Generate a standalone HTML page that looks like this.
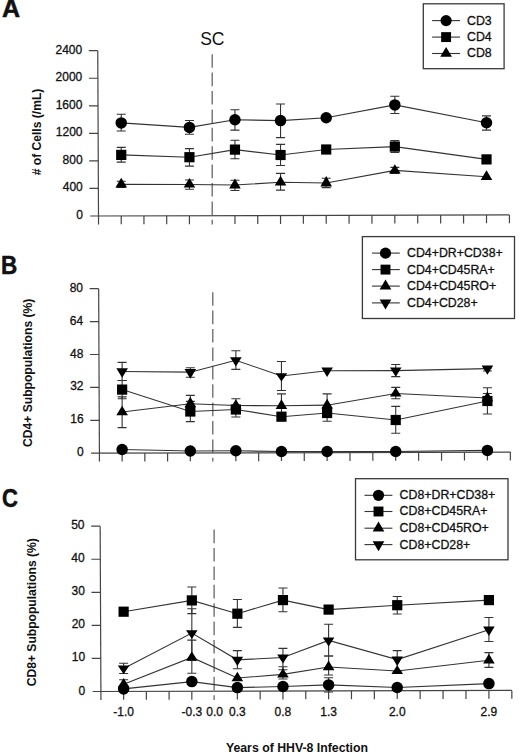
<!DOCTYPE html>
<html><head><meta charset="utf-8"><style>
html,body{margin:0;padding:0;background:#fff;}
svg{display:block;}
text{font-family:"Liberation Sans",sans-serif;fill:#111;}
.t{font-size:12px;stroke:#111;stroke-width:0.3px;}
.L{font-size:25px;font-weight:bold;stroke:#111;stroke-width:0.5px;}
.sc{font-size:17.5px;}
.yl{font-size:11.5px;font-weight:bold;}
.xt{font-size:12.3px;font-weight:bold;}
</style></head><body>
<svg width="520" height="754" viewBox="0 0 520 754">
<rect width="520" height="754" fill="#fff"/>
<path d="M97.76 50.7L98.54 224.4" stroke="#444" stroke-width="1.2" fill="none"/>
<path d="M88.76 50.7H97.76M88.88 78.25H97.88M89 105.8H98M89.13 133.35H98.13M89.25 160.9H98.25M89.38 188.45H98.38" stroke="#444" stroke-width="1.2" fill="none"/>
<path d="M90.2 216.02L509.44 214.9" stroke="#444" stroke-width="1.2" fill="none"/>
<path d="M121.23 215.94v8.4M143.95 215.88v8.4M166.69 215.82v8.4M189.43 215.76v8.4M234.96 215.63v8.4M257.75 215.57v8.4M280.55 215.51v8.4M303.37 215.45v8.4M326.21 215.39v8.4M349.07 215.33v8.4M371.94 215.27v8.4M394.83 215.21v8.4M417.73 215.15v8.4M440.65 215.08v8.4M463.57 215.02v8.4M486.51 214.96v8.4M509.44 214.9v8.4" stroke="#444" stroke-width="1.2" fill="none"/>
<path d="M212.2 54.2V224.4" stroke="#666" stroke-width="1.3" stroke-dasharray="13.6 4.8" fill="none"/>
<text x="82.16" y="53.7" text-anchor="end" class="t">2400</text>
<text x="82.28" y="81.25" text-anchor="end" class="t">2000</text>
<text x="82.4" y="108.8" text-anchor="end" class="t">1600</text>
<text x="82.53" y="136.35" text-anchor="end" class="t">1200</text>
<text x="82.65" y="163.9" text-anchor="end" class="t">800</text>
<text x="82.78" y="191.45" text-anchor="end" class="t">400</text>
<text x="82.9" y="219" text-anchor="end" class="t">0</text>
<text transform="translate(1.9 17) scale(1.0 1)" class="L">A</text>
<text x="200.2" y="45.4" class="sc">SC</text>
<polyline points="121.23,122.9 189.43,127.4 234.96,119.7 280.55,120.6 326.21,117.7 394.83,104.9 486.51,122.7" stroke="#333" stroke-width="1.1" fill="none"/>
<path d="M121.23 114.3V131M116.73 114.3h9M116.73 131h9" stroke="#333" stroke-width="1.1" fill="none"/>
<path d="M189.43 120.5V134.3M184.93 120.5h9M184.93 134.3h9" stroke="#333" stroke-width="1.1" fill="none"/>
<path d="M234.96 109.8V130.1M230.46 109.8h9M230.46 130.1h9" stroke="#333" stroke-width="1.1" fill="none"/>
<path d="M280.55 104V137.6M276.05 104h9M276.05 137.6h9" stroke="#333" stroke-width="1.1" fill="none"/>
<path d="M394.83 96.3V113.5M390.33 96.3h9M390.33 113.5h9" stroke="#333" stroke-width="1.1" fill="none"/>
<path d="M486.51 115.9V130.1M482.01 115.9h9M482.01 130.1h9" stroke="#333" stroke-width="1.1" fill="none"/>
<polyline points="121.23,154.9 189.43,157.2 234.96,149.6 280.55,155 326.21,149.5 394.83,146.6 486.51,159.4" stroke="#333" stroke-width="1.1" fill="none"/>
<path d="M121.23 147.4V162.1M116.73 147.4h9M116.73 162.1h9" stroke="#333" stroke-width="1.1" fill="none"/>
<path d="M189.43 148.6V166.1M184.93 148.6h9M184.93 166.1h9" stroke="#333" stroke-width="1.1" fill="none"/>
<path d="M234.96 140.3V158.8M230.46 140.3h9M230.46 158.8h9" stroke="#333" stroke-width="1.1" fill="none"/>
<path d="M280.55 144.4V165.5M276.05 144.4h9M276.05 165.5h9" stroke="#333" stroke-width="1.1" fill="none"/>
<path d="M394.83 140.6V152.5M390.33 140.6h9M390.33 152.5h9" stroke="#333" stroke-width="1.1" fill="none"/>
<polyline points="121.23,184.33 189.43,184.43 234.96,185.07 280.55,182.27 326.21,182.93 394.83,170.4 486.51,176.73" stroke="#333" stroke-width="1.1" fill="none"/>
<path d="M121.23 181.2V187.4M116.73 181.2h9M116.73 187.4h9" stroke="#333" stroke-width="1.1" fill="none"/>
<path d="M189.43 180V189.2M184.93 180h9M184.93 189.2h9" stroke="#333" stroke-width="1.1" fill="none"/>
<path d="M234.96 180.25V190.5M230.46 180.25h9M230.46 190.5h9" stroke="#333" stroke-width="1.1" fill="none"/>
<path d="M280.55 173.4V190.1M276.05 173.4h9M276.05 190.1h9" stroke="#333" stroke-width="1.1" fill="none"/>
<path d="M326.21 178.2V187.6M321.71 178.2h9M321.71 187.6h9" stroke="#333" stroke-width="1.1" fill="none"/>
<path d="M394.83 167.4V173.4M390.33 167.4h9M390.33 173.4h9" stroke="#333" stroke-width="1.1" fill="none"/>
<rect x="423.3" y="3.8" width="80.8" height="64.9" fill="none" stroke="#3a3a3a" stroke-width="1.3"/>
<path d="M432.1 20.6H460" stroke="#333" stroke-width="1.1"/>
<circle cx="446.1" cy="20.6" r="5.6" fill="#000"/>
<text x="467" y="24.5" class="t" style="font-size:12.35px">CD3</text>
<path d="M432.1 37.1H460" stroke="#333" stroke-width="1.1"/>
<rect x="441.15" y="32.15" width="9.9" height="9.9" fill="#000"/>
<text x="467" y="41" class="t" style="font-size:12.35px">CD4</text>
<path d="M432.1 53.5H460" stroke="#333" stroke-width="1.1"/>
<path d="M446.1 46.9L451.95 56.8L440.25 56.8Z" fill="#000"/>
<text x="467" y="57.4" class="t" style="font-size:12.35px">CD8</text>
<text transform="translate(41.2 132.0) rotate(-90)" text-anchor="middle" class="yl" style="font-size:12.1px"># of Cells (/mL)</text>
<circle cx="121.23" cy="122.9" r="5.75" fill="#000"/>
<circle cx="189.43" cy="127.4" r="5.75" fill="#000"/>
<circle cx="234.96" cy="119.7" r="5.75" fill="#000"/>
<circle cx="280.55" cy="120.6" r="5.75" fill="#000"/>
<circle cx="326.21" cy="117.7" r="5.75" fill="#000"/>
<circle cx="394.83" cy="104.9" r="5.75" fill="#000"/>
<circle cx="486.51" cy="122.7" r="5.75" fill="#000"/>
<rect x="116.13" y="149.8" width="10.2" height="10.2" fill="#000"/>
<rect x="184.33" y="152.1" width="10.2" height="10.2" fill="#000"/>
<rect x="229.86" y="144.5" width="10.2" height="10.2" fill="#000"/>
<rect x="275.45" y="149.9" width="10.2" height="10.2" fill="#000"/>
<rect x="321.11" y="144.4" width="10.2" height="10.2" fill="#000"/>
<rect x="389.73" y="141.5" width="10.2" height="10.2" fill="#000"/>
<rect x="481.41" y="154.3" width="10.2" height="10.2" fill="#000"/>
<path d="M121.23 177.8L127.03 187.6L115.43 187.6Z" fill="#000"/>
<path d="M189.43 178.1L195.23 187.6L183.63 187.6Z" fill="#000"/>
<path d="M234.96 178.4L240.76 188.4L229.16 188.4Z" fill="#000"/>
<path d="M280.55 175.8L286.35 185.5L274.75 185.5Z" fill="#000"/>
<path d="M326.21 176L332.01 186.4L320.41 186.4Z" fill="#000"/>
<path d="M394.83 164.2L400.63 173.5L389.03 173.5Z" fill="#000"/>
<path d="M486.51 170.2L492.31 180L480.71 180Z" fill="#000"/>
<path d="M98.66 288.7L99.44 461.6" stroke="#444" stroke-width="1.2" fill="none"/>
<path d="M89.66 288.7H98.66M89.81 321.6H98.81M89.96 354.5H98.96M90.1 387.4H99.1M90.25 420.3H99.25" stroke="#444" stroke-width="1.2" fill="none"/>
<path d="M91.1 453.22L510.34 452.1" stroke="#444" stroke-width="1.2" fill="none"/>
<path d="M122.13 453.14v8.4M144.85 453.08v8.4M167.59 453.02v8.4M190.33 452.96v8.4M235.86 452.83v8.4M258.65 452.77v8.4M281.45 452.71v8.4M304.27 452.65v8.4M327.11 452.59v8.4M349.97 452.53v8.4M372.84 452.47v8.4M395.73 452.41v8.4M418.63 452.35v8.4M441.55 452.28v8.4M464.47 452.22v8.4M487.41 452.16v8.4M510.34 452.1v8.4" stroke="#444" stroke-width="1.2" fill="none"/>
<path d="M212.8 292.2V461.6" stroke="#666" stroke-width="1.3" stroke-dasharray="13.6 4.8" fill="none"/>
<text x="83.06" y="291.7" text-anchor="end" class="t">80</text>
<text x="83.21" y="324.6" text-anchor="end" class="t">64</text>
<text x="83.36" y="357.5" text-anchor="end" class="t">48</text>
<text x="83.5" y="390.4" text-anchor="end" class="t">32</text>
<text x="83.65" y="423.3" text-anchor="end" class="t">16</text>
<text x="83.8" y="456.2" text-anchor="end" class="t">0</text>
<text transform="translate(1 274) scale(0.9 1)" class="L">B</text>
<polyline points="122.13,449.5 190.33,451 235.86,450.8 281.45,451.5 327.11,451.5 395.73,451.5 487.41,450.4" stroke="#333" stroke-width="1.1" fill="none"/>
<polyline points="122.13,389.6 190.33,411.5 235.86,409.5 281.45,416.7 327.11,413 395.73,420 487.41,401" stroke="#333" stroke-width="1.1" fill="none"/>
<path d="M122.13 380.5V398.7M117.63 380.5h9M117.63 398.7h9" stroke="#333" stroke-width="1.1" fill="none"/>
<path d="M190.33 401.4V421.6M185.83 401.4h9M185.83 421.6h9" stroke="#333" stroke-width="1.1" fill="none"/>
<path d="M235.86 398.7V417M231.36 398.7h9M231.36 417h9" stroke="#333" stroke-width="1.1" fill="none"/>
<path d="M327.11 393.9V421.3M322.61 393.9h9M322.61 421.3h9" stroke="#333" stroke-width="1.1" fill="none"/>
<path d="M395.73 406.4V433.2M391.23 406.4h9M391.23 433.2h9" stroke="#333" stroke-width="1.1" fill="none"/>
<path d="M487.41 387.7V414M482.91 387.7h9M482.91 414h9" stroke="#333" stroke-width="1.1" fill="none"/>
<polyline points="122.13,412.03 190.33,403.8 235.86,405.47 281.45,405.8 327.11,405.17 395.73,393.53 487.41,398" stroke="#333" stroke-width="1.1" fill="none"/>
<path d="M122.13 396.9V427.6M117.63 396.9h9M117.63 427.6h9" stroke="#333" stroke-width="1.1" fill="none"/>
<path d="M190.33 395.4V410M185.83 395.4h9M185.83 410h9" stroke="#333" stroke-width="1.1" fill="none"/>
<path d="M281.45 393.9V414.5M276.95 393.9h9M276.95 414.5h9" stroke="#333" stroke-width="1.1" fill="none"/>
<path d="M395.73 387.4V398.7M391.23 387.4h9M391.23 398.7h9" stroke="#333" stroke-width="1.1" fill="none"/>
<path d="M487.41 393.5V400M482.91 393.5h9M482.91 400h9" stroke="#333" stroke-width="1.1" fill="none"/>
<polyline points="122.13,371.47 190.33,372.17 235.86,360.27 281.45,376 327.11,370.77 395.73,370.67 487.41,368.67" stroke="#333" stroke-width="1.1" fill="none"/>
<path d="M122.13 362.4V380.5M117.63 362.4h9M117.63 380.5h9" stroke="#333" stroke-width="1.1" fill="none"/>
<path d="M190.33 367.8V377.3M185.83 367.8h9M185.83 377.3h9" stroke="#333" stroke-width="1.1" fill="none"/>
<path d="M235.86 350.8V369.4M231.36 350.8h9M231.36 369.4h9" stroke="#333" stroke-width="1.1" fill="none"/>
<path d="M281.45 361.5V390.5M276.95 361.5h9M276.95 390.5h9" stroke="#333" stroke-width="1.1" fill="none"/>
<path d="M395.73 364.5V376.6M391.23 364.5h9M391.23 376.6h9" stroke="#333" stroke-width="1.1" fill="none"/>
<path d="M487.41 368V371M482.91 368h9M482.91 371h9" stroke="#333" stroke-width="1.1" fill="none"/>
<rect x="362.4" y="236.6" width="152.1" height="81.9" fill="none" stroke="#3a3a3a" stroke-width="1.3"/>
<path d="M372 253.1H399.8" stroke="#333" stroke-width="1.1"/>
<circle cx="385.5" cy="253.1" r="5.6" fill="#000"/>
<text x="407" y="257" class="t" style="font-size:12.35px">CD4+DR+CD38+</text>
<path d="M372 269.6H399.8" stroke="#333" stroke-width="1.1"/>
<rect x="380.55" y="264.65" width="9.9" height="9.9" fill="#000"/>
<text x="407" y="273.5" class="t" style="font-size:12.35px">CD4+CD45RA+</text>
<path d="M372 286.1H399.8" stroke="#333" stroke-width="1.1"/>
<path d="M385.5 279.5L391.35 289.4L379.65 289.4Z" fill="#000"/>
<text x="407" y="290" class="t" style="font-size:12.35px">CD4+CD45RO+</text>
<path d="M372 302.9H399.8" stroke="#333" stroke-width="1.1"/>
<path d="M379.65 299.6L391.35 299.6L385.5 309.5Z" fill="#000"/>
<text x="407" y="306.8" class="t" style="font-size:12.35px">CD4+CD28+</text>
<text transform="translate(32.4 372.8) rotate(-90)" text-anchor="middle" class="yl" style="font-size:12.1px">CD4+ Subpopulations (%)</text>
<circle cx="122.13" cy="449.5" r="5.75" fill="#000"/>
<circle cx="190.33" cy="451" r="5.75" fill="#000"/>
<circle cx="235.86" cy="450.8" r="5.75" fill="#000"/>
<circle cx="281.45" cy="451.5" r="5.75" fill="#000"/>
<circle cx="327.11" cy="451.5" r="5.75" fill="#000"/>
<circle cx="395.73" cy="451.5" r="5.75" fill="#000"/>
<circle cx="487.41" cy="450.4" r="5.75" fill="#000"/>
<rect x="117.03" y="384.5" width="10.2" height="10.2" fill="#000"/>
<rect x="185.23" y="406.4" width="10.2" height="10.2" fill="#000"/>
<rect x="230.76" y="404.4" width="10.2" height="10.2" fill="#000"/>
<rect x="276.35" y="411.6" width="10.2" height="10.2" fill="#000"/>
<rect x="322.01" y="407.9" width="10.2" height="10.2" fill="#000"/>
<rect x="390.63" y="414.9" width="10.2" height="10.2" fill="#000"/>
<rect x="482.31" y="395.9" width="10.2" height="10.2" fill="#000"/>
<path d="M122.13 405.7L127.93 415.2L116.33 415.2Z" fill="#000"/>
<path d="M190.33 396.8L196.13 407.3L184.53 407.3Z" fill="#000"/>
<path d="M235.86 399.2L241.66 408.6L230.06 408.6Z" fill="#000"/>
<path d="M281.45 399.2L287.25 409.1L275.65 409.1Z" fill="#000"/>
<path d="M327.11 398.7L332.91 408.4L321.31 408.4Z" fill="#000"/>
<path d="M395.73 387.4L401.53 396.6L389.93 396.6Z" fill="#000"/>
<path d="M487.41 391.6L493.21 401.2L481.61 401.2Z" fill="#000"/>
<path d="M116.33 368.3L127.93 368.3L122.13 377.8Z" fill="#000"/>
<path d="M184.53 368.9L196.13 368.9L190.33 378.7Z" fill="#000"/>
<path d="M230.06 357.2L241.66 357.2L235.86 366.4Z" fill="#000"/>
<path d="M275.65 373.2L287.25 373.2L281.45 381.6Z" fill="#000"/>
<path d="M321.31 367.6L332.91 367.6L327.11 377.1Z" fill="#000"/>
<path d="M389.93 367.6L401.53 367.6L395.73 376.8Z" fill="#000"/>
<path d="M481.61 365.6L493.21 365.6L487.41 374.8Z" fill="#000"/>
<path d="M100.16 526.2L100.94 699.9" stroke="#444" stroke-width="1.2" fill="none"/>
<path d="M91.16 526.2H100.16M91.3 559.26H100.3M91.45 592.32H100.45M91.6 625.38H100.6M91.75 658.44H100.75" stroke="#444" stroke-width="1.2" fill="none"/>
<path d="M92.6 691.52L511.84 690.4" stroke="#444" stroke-width="1.2" fill="none"/>
<path d="M123.63 691.44v8.4M146.35 691.38v8.4M169.09 691.32v8.4M191.83 691.26v8.4M237.36 691.13v8.4M260.15 691.07v8.4M282.95 691.01v8.4M305.77 690.95v8.4M328.61 690.89v8.4M351.47 690.83v8.4M374.34 690.77v8.4M397.23 690.71v8.4M420.13 690.65v8.4M443.05 690.58v8.4M465.97 690.52v8.4M488.91 690.46v8.4M511.84 690.4v8.4" stroke="#444" stroke-width="1.2" fill="none"/>
<path d="M214.1 529.6V699.9" stroke="#666" stroke-width="1.3" stroke-dasharray="13.6 4.8" fill="none"/>
<text x="84.56" y="529.2" text-anchor="end" class="t">50</text>
<text x="84.7" y="562.26" text-anchor="end" class="t">40</text>
<text x="84.85" y="595.32" text-anchor="end" class="t">30</text>
<text x="85" y="628.38" text-anchor="end" class="t">20</text>
<text x="85.15" y="661.44" text-anchor="end" class="t">10</text>
<text x="85.3" y="694.5" text-anchor="end" class="t">0</text>
<text transform="translate(1.9 507) scale(0.88 1)" class="L">C</text>
<polyline points="123.63,688.9 191.83,681.6 237.36,687.6 282.95,686.5 328.61,684.9 397.23,687.5 488.91,683.6" stroke="#333" stroke-width="1.1" fill="none"/>
<path d="M328.61 677.8V692M324.11 677.8h9M324.11 692h9" stroke="#333" stroke-width="1.1" fill="none"/>
<polyline points="123.63,611.7 191.83,600.4 237.36,613.7 282.95,600.1 328.61,609.6 397.23,605.2 488.91,600.1" stroke="#333" stroke-width="1.1" fill="none"/>
<path d="M191.83 587V613.6M187.33 587h9M187.33 613.6h9" stroke="#333" stroke-width="1.1" fill="none"/>
<path d="M237.36 599.5V627.4M232.86 599.5h9M232.86 627.4h9" stroke="#333" stroke-width="1.1" fill="none"/>
<path d="M282.95 588V611.7M278.45 588h9M278.45 611.7h9" stroke="#333" stroke-width="1.1" fill="none"/>
<path d="M397.23 596.5V614M392.73 596.5h9M392.73 614h9" stroke="#333" stroke-width="1.1" fill="none"/>
<polyline points="123.63,684.3 191.83,657.4 237.36,678.03 282.95,674.33 328.61,667 397.23,671 488.91,660.3" stroke="#333" stroke-width="1.1" fill="none"/>
<path d="M123.63 679.7V686M119.13 679.7h9M119.13 686h9" stroke="#333" stroke-width="1.1" fill="none"/>
<path d="M191.83 640.1V673.2M187.33 640.1h9M187.33 673.2h9" stroke="#333" stroke-width="1.1" fill="none"/>
<path d="M282.95 666.7V679M278.45 666.7h9M278.45 679h9" stroke="#333" stroke-width="1.1" fill="none"/>
<path d="M328.61 656V675M324.11 656h9M324.11 675h9" stroke="#333" stroke-width="1.1" fill="none"/>
<path d="M488.91 652.6V667.4M484.41 652.6h9M484.41 667.4h9" stroke="#333" stroke-width="1.1" fill="none"/>
<polyline points="123.63,668.47 191.83,633.13 237.36,659.83 282.95,657.53 328.61,640.4 397.23,659.63 488.91,629.7" stroke="#333" stroke-width="1.1" fill="none"/>
<path d="M123.63 663.3V673.5M119.13 663.3h9M119.13 673.5h9" stroke="#333" stroke-width="1.1" fill="none"/>
<path d="M191.83 608.8V660.4M187.33 608.8h9M187.33 660.4h9" stroke="#333" stroke-width="1.1" fill="none"/>
<path d="M237.36 650.6V668.7M232.86 650.6h9M232.86 668.7h9" stroke="#333" stroke-width="1.1" fill="none"/>
<path d="M282.95 648.4V669.7M278.45 648.4h9M278.45 669.7h9" stroke="#333" stroke-width="1.1" fill="none"/>
<path d="M328.61 624.2V656M324.11 624.2h9M324.11 656h9" stroke="#333" stroke-width="1.1" fill="none"/>
<path d="M397.23 650.6V671.8M392.73 650.6h9M392.73 671.8h9" stroke="#333" stroke-width="1.1" fill="none"/>
<path d="M488.91 617.5V641.5M484.41 617.5h9M484.41 641.5h9" stroke="#333" stroke-width="1.1" fill="none"/>
<rect x="355.5" y="478.7" width="152.5" height="81.1" fill="none" stroke="#3a3a3a" stroke-width="1.3"/>
<path d="M364.5 495.3H392.4" stroke="#333" stroke-width="1.1"/>
<circle cx="378.5" cy="495.3" r="5.6" fill="#000"/>
<text x="399.6" y="499.2" class="t" style="font-size:12.35px">CD8+DR+CD38+</text>
<path d="M364.5 511.5H392.4" stroke="#333" stroke-width="1.1"/>
<rect x="373.55" y="506.55" width="9.9" height="9.9" fill="#000"/>
<text x="399.6" y="515.4" class="t" style="font-size:12.35px">CD8+CD45RA+</text>
<path d="M364.5 528.2H392.4" stroke="#333" stroke-width="1.1"/>
<path d="M378.5 521.6L384.35 531.5L372.65 531.5Z" fill="#000"/>
<text x="399.6" y="532.1" class="t" style="font-size:12.35px">CD8+CD45RO+</text>
<path d="M364.5 544.6H392.4" stroke="#333" stroke-width="1.1"/>
<path d="M372.65 541.3L384.35 541.3L378.5 551.2Z" fill="#000"/>
<text x="399.6" y="548.5" class="t" style="font-size:12.35px">CD8+CD28+</text>
<text transform="translate(36.0 612.2) rotate(-90)" text-anchor="middle" class="yl" style="font-size:12.1px">CD8+ Subpopulations (%)</text>
<circle cx="123.63" cy="688.9" r="5.75" fill="#000"/>
<circle cx="191.83" cy="681.6" r="5.75" fill="#000"/>
<circle cx="237.36" cy="687.6" r="5.75" fill="#000"/>
<circle cx="282.95" cy="686.5" r="5.75" fill="#000"/>
<circle cx="328.61" cy="684.9" r="5.75" fill="#000"/>
<circle cx="397.23" cy="687.5" r="5.75" fill="#000"/>
<circle cx="488.91" cy="683.6" r="5.75" fill="#000"/>
<rect x="118.53" y="606.6" width="10.2" height="10.2" fill="#000"/>
<rect x="186.73" y="595.3" width="10.2" height="10.2" fill="#000"/>
<rect x="232.26" y="608.6" width="10.2" height="10.2" fill="#000"/>
<rect x="277.85" y="595" width="10.2" height="10.2" fill="#000"/>
<rect x="323.51" y="604.5" width="10.2" height="10.2" fill="#000"/>
<rect x="392.13" y="600.1" width="10.2" height="10.2" fill="#000"/>
<rect x="483.81" y="595" width="10.2" height="10.2" fill="#000"/>
<path d="M123.63 678.1L129.43 687.4L117.83 687.4Z" fill="#000"/>
<path d="M191.83 651.4L197.63 660.4L186.03 660.4Z" fill="#000"/>
<path d="M237.36 671.7L243.16 681.2L231.56 681.2Z" fill="#000"/>
<path d="M282.95 668.2L288.75 677.4L277.15 677.4Z" fill="#000"/>
<path d="M328.61 660.6L334.41 670.2L322.81 670.2Z" fill="#000"/>
<path d="M397.23 665.2L403.03 673.9L391.43 673.9Z" fill="#000"/>
<path d="M488.91 653.7L494.71 663.6L483.11 663.6Z" fill="#000"/>
<path d="M117.83 665.6L129.43 665.6L123.63 674.2Z" fill="#000"/>
<path d="M186.03 630.2L197.63 630.2L191.83 639Z" fill="#000"/>
<path d="M231.56 656.8L243.16 656.8L237.36 665.9Z" fill="#000"/>
<path d="M277.15 654.5L288.75 654.5L282.95 663.6Z" fill="#000"/>
<path d="M322.81 637.4L334.41 637.4L328.61 646.4Z" fill="#000"/>
<path d="M391.43 656.5L403.03 656.5L397.23 665.9Z" fill="#000"/>
<path d="M483.11 626.5L494.71 626.5L488.91 636.1Z" fill="#000"/>
<text x="123.63" y="715.5" text-anchor="middle" class="t">-1.0</text>
<text x="191.83" y="715.5" text-anchor="middle" class="t">-0.3</text>
<text x="214.59" y="715.5" text-anchor="middle" class="t">0.0</text>
<text x="237.36" y="715.5" text-anchor="middle" class="t">0.3</text>
<text x="282.95" y="715.5" text-anchor="middle" class="t">0.8</text>
<text x="328.61" y="715.5" text-anchor="middle" class="t">1.3</text>
<text x="397.23" y="715.5" text-anchor="middle" class="t">2.0</text>
<text x="488.91" y="715.5" text-anchor="middle" class="t">2.9</text>
<text x="297" y="752" text-anchor="middle" class="xt">Years of HHV-8 Infection</text>
</svg>
</body></html>
